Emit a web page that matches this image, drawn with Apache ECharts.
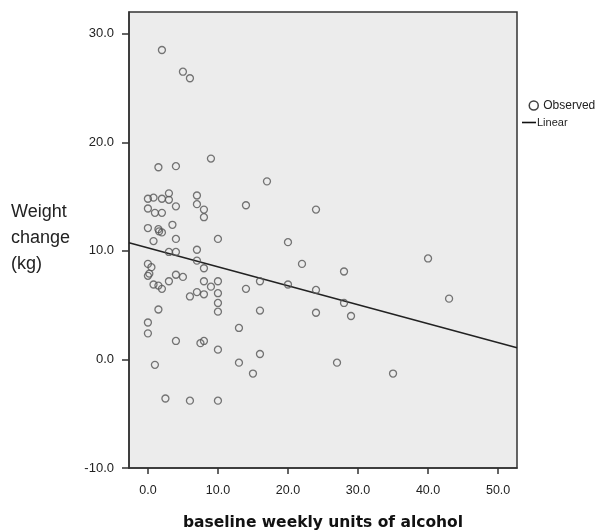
<!DOCTYPE html>
<html>
<head>
<meta charset="utf-8">
<script src="https://cdn.jsdelivr.net/npm/echarts@6/dist/echarts.min.js"></script>
<style>
  html, body { margin: 0; padding: 0; background: #fff; }
  #chart { width: 598px; height: 531px; }
</style>
</head>
<body>
<div id="chart"></div>
<script>
// observed points: baseline weekly units of alcohol vs weight change (kg)
const alcohol = [
  2.0, 5.0, 6.0, 9.0, 1.5, 4.0, 17.0, 3.0, 0.0, 0.8,
  2.0, 3.0, 7.0, 7.0, 4.0, 14.0, 24.0, 0.0, 1.0, 2.0,
  8.0, 8.0, 3.5, 0.0, 1.5, 1.6, 2.0, 4.0, 10.0, 0.8,
  20.0, 7.0, 3.0, 4.0, 7.0, 0.0, 0.5, 8.0, 22.0, 0.0,
  0.2, 4.0, 5.0, 3.0, 0.8, 1.5, 2.0, 8.0, 10.0, 9.0,
  16.0, 20.0, 24.0, 7.0, 8.0, 6.0, 10.0, 14.0, 10.0, 10.0,
  1.5, 16.0, 24.0, 0.0, 0.0, 13.0, 4.0, 7.5, 8.0, 10.0,
  16.0, 1.0, 13.0, 15.0, 2.5, 6.0, 10.0, 40.0, 28.0, 28.0,
  43.0, 29.0, 27.0, 35.0
];
const weightChange = [
  28.5, 26.5, 25.9, 18.5, 17.7, 17.8, 16.4, 15.3, 14.8, 14.9,
  14.8, 14.7, 15.1, 14.3, 14.1, 14.2, 13.8, 13.9, 13.5, 13.5,
  13.8, 13.1, 12.4, 12.1, 12.0, 11.8, 11.7, 11.1, 11.1, 10.9,
  10.8, 10.1, 9.9, 9.9, 9.1, 8.8, 8.5, 8.4, 8.8, 7.7,
  7.9, 7.8, 7.6, 7.2, 6.9, 6.8, 6.5, 7.2, 7.2, 6.7,
  7.2, 6.9, 6.4, 6.2, 6.0, 5.8, 6.1, 6.5, 5.2, 4.4,
  4.6, 4.5, 4.3, 3.4, 2.4, 2.9, 1.7, 1.5, 1.7, 0.9,
  0.5, -0.5, -0.3, -1.3, -3.6, -3.8, -3.8, 9.3, 8.1, 5.2,
  5.6, 4.0, -0.3, -1.3
];

// linear fit line, end points read at the plot edges
const fitX = [-2.7, 52.7];
const fitY = [10.74, 1.07];

const xTicks = [0, 10, 20, 30, 40, 50];
const yTicks = [-10, 0, 10, 20, 30];

const chart = echarts.init(document.getElementById('chart'));

const font = 'Liberation Sans, Arial, sans-serif';

const option = {
  animation: false,
  title: {
    text: 'Weight\nchange\n(kg)',
    left: 11,
    top: 199,
    padding: 0,
    textStyle: {
      fontFamily: font,
      fontSize: 18,
      fontWeight: 'normal',
      lineHeight: 26,
      color: '#222'
    }
  },
  legend: [
    {
      data: [{
        name: 'Observed',
        icon: 'circle',
        itemStyle: { color: 'rgba(0,0,0,0)', borderColor: '#111', borderWidth: 1.5 }
      }],
      left: 528.5,
      top: 99.5,
      padding: 0,
      itemWidth: 9,
      itemHeight: 9,
      textStyle: { fontFamily: font, fontSize: 12, color: '#222' }
    },
    {
      data: [{
        name: 'Linear',
        icon: 'rect',
        itemStyle: { color: '#111', borderWidth: 0 }
      }],
      left: 522,
      top: 117,
      padding: 0,
      itemWidth: 14,
      itemHeight: 1.6,
      textStyle: { fontFamily: font, fontSize: 11, color: '#222', padding: [0, 0, 0, -4] }
    }
  ],
  grid: {
    left: 129,
    top: 12,
    right: 81,
    bottom: 63,
    outerBoundsMode: 'none',
    containLabel: false,
    show: true,
    backgroundColor: '#ececec',
    borderColor: '#333',
    borderWidth: 1.5
  },
  xAxis: {
    type: 'value',
    min: -2.7,
    max: 52.7,
    name: 'baseline weekly units of alcohol',
    nameLocation: 'middle',
    nameGap: 47,
    nameTextStyle: {
      fontFamily: 'DejaVu Sans, sans-serif',
      fontSize: 15.5,
      fontWeight: 'bold',
      color: '#111'
    },
    splitLine: { show: false },
    axisLine: { show: true, onZero: false, lineStyle: { color: '#333', width: 1.5 } },
    axisTick: {
      show: true,
      customValues: xTicks,
      length: 6,
      lineStyle: { color: '#333', width: 1.5 }
    },
    axisLabel: {
      customValues: xTicks,
      margin: 16,
      formatter: (v) => v.toFixed(1),
      fontFamily: font,
      fontSize: 12.5,
      color: '#222'
    }
  },
  yAxis: {
    type: 'value',
    min: -10,
    max: 32,
    splitLine: { show: false },
    axisLine: { show: true, onZero: false, lineStyle: { color: '#333', width: 1.5 } },
    axisTick: {
      show: true,
      customValues: yTicks,
      length: 7,
      lineStyle: { color: '#333', width: 1.5 }
    },
    axisLabel: {
      customValues: yTicks,
      margin: 15,
      formatter: (v) => v.toFixed(1),
      fontFamily: font,
      fontSize: 13,
      color: '#222'
    }
  },
  series: [
    {
      name: 'Observed',
      type: 'scatter',
      data: alcohol.map((x, i) => [x, weightChange[i]]),
      symbol: 'circle',
      symbolSize: 7,
      itemStyle: { color: 'rgba(0,0,0,0)', borderColor: '#555', borderWidth: 1.3 },
      emphasis: { disabled: true },
      z: 3
    },
    {
      name: 'Linear',
      type: 'line',
      data: fitX.map((x, i) => [x, fitY[i]]),
      symbol: 'none',
      lineStyle: { color: '#222', width: 1.5 },
      emphasis: { disabled: true },
      z: 2
    }
  ]
};

chart.setOption(option);
</script>
</body>
</html>
